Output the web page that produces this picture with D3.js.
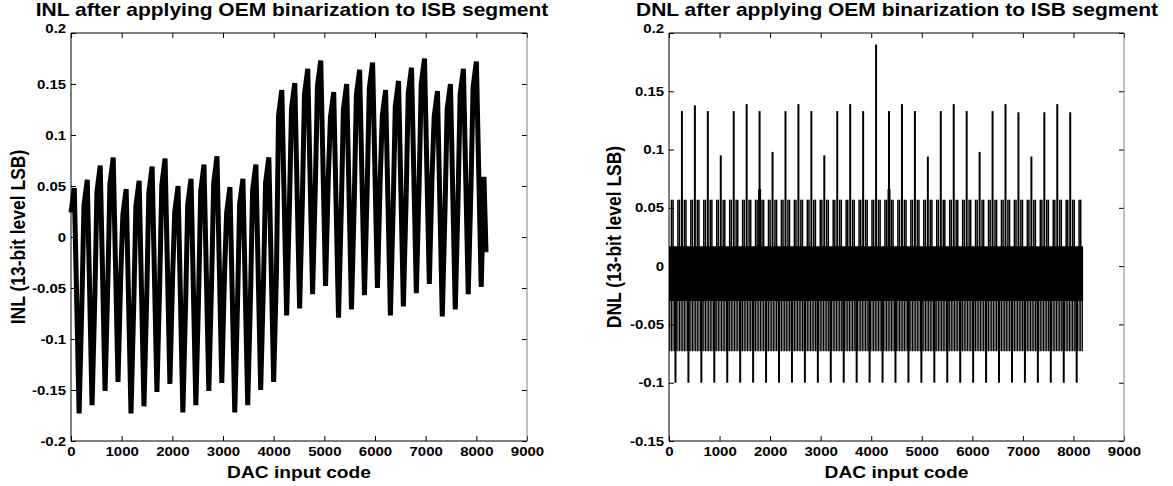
<!DOCTYPE html>
<html>
<head>
<meta charset="utf-8">
<script src="https://cdnjs.cloudflare.com/ajax/libs/d3/7.8.5/d3.min.js"></script>
<style>
  body { margin: 0; background: #fff; }
  text { font-family: "Liberation Sans", Arial, sans-serif; font-weight: bold; fill: #000; }
</style>
</head>
<body>
<div id="chart"></div>
<script>
// tick values
var codeTicks = [0, 1000, 2000, 3000, 4000, 5000, 6000, 7000, 8000, 9000];
var inlTicks = [-0.2, -0.15, -0.1, -0.05, 0, 0.05, 0.1, 0.15, 0.2];
var dnlTicks = [-0.15, -0.1, -0.05, 0, 0.05, 0.1, 0.15, 0.2];

// first code of every 256-code period
var periodStart = [0, 256, 512, 768, 1024, 1280, 1536, 1792, 2048, 2304, 2560, 2816, 3072, 3328, 3584, 3840,
  4096, 4352, 4608, 4864, 5120, 5376, 5632, 5888, 6144, 6400, 6656, 6912, 7168, 7424, 7680, 7936];

// INL, read per period: value at period start, at the peak, the trough and half way back up
var inlOffsets = [0, 65, 160, 215];
var inlStart = [0.024, 0.031, 0.044, 0.052, 0.022, 0.030, 0.043, 0.051, 0.025, 0.032, 0.045, 0.053, 0.024, 0.032, 0.046, 0.053,
  0.119, 0.126, 0.140, 0.148, 0.117, 0.125, 0.139, 0.146, 0.119, 0.128, 0.141, 0.150, 0.118, 0.125, 0.140, 0.147];
var inlPeak = [0.048, 0.056, 0.070, 0.078, 0.047, 0.055, 0.069, 0.077, 0.050, 0.057, 0.071, 0.079, 0.049, 0.057, 0.071, 0.078,
  0.144, 0.151, 0.165, 0.173, 0.142, 0.150, 0.164, 0.171, 0.144, 0.153, 0.166, 0.175, 0.143, 0.150, 0.165, 0.172];
var inlTrough = [-0.173, -0.165, -0.151, -0.142, -0.173, -0.166, -0.152, -0.144, -0.172, -0.165, -0.151, -0.143, -0.172, -0.165, -0.150, -0.142,
  -0.077, -0.070, -0.056, -0.048, -0.079, -0.071, -0.057, -0.050, -0.077, -0.068, -0.055, -0.046, -0.078, -0.071, -0.056, -0.049];
var inlRise = [-0.065, -0.058, -0.045, -0.036, -0.065, -0.058, -0.045, -0.036, -0.064, -0.057, -0.044, -0.035, -0.065, -0.058, -0.044, -0.035,
  0.030, 0.037, 0.051, 0.059, 0.028, 0.036, 0.050, 0.057, 0.030, 0.039, 0.052, 0.061, 0.029, 0.036, 0.051, 0.059];
var inlEndCode = [8191];
var inlEndValue = [-0.015];

// DNL: dense band, spikes at period boundaries, spikes inside periods
var dnlBandCodes = [0, 8191];
var dnlBandLow = [-0.030, -0.030];
var dnlBandHigh = [0.017, 0.017];
var dnlBigValues = [0.133, 0.138, 0.133, 0.095, 0.133, 0.139, 0.133, 0.098, 0.133, 0.139, 0.133, 0.095, 0.133, 0.139, 0.133,
  0.190, 0.133, 0.139, 0.133, 0.094, 0.133, 0.139, 0.133, 0.098, 0.133, 0.139, 0.132, 0.094, 0.132, 0.139, 0.132];
var dnlDownOffset = 128;
var dnlDownValue = -0.100;
var dnlMidUpOffsets = [48, 80, 176, 208];
var dnlMidUpValue = 0.057;
var dnlMidDownOffsets = [16, 48, 80, 112, 144, 176, 208, 240];
var dnlMidDownValue = -0.073;
var dnlHumpCodes = [1792, 4352];
var dnlHumpValues = [0.066, 0.066];

var width = 1173,
    height = 486,
    plotTop = 33,
    plotBottom = 441,
    stretch = 1.2;   // the picture is drawn wider than the font

var svg = d3.select('#chart')
  .append('svg')
    .attr('width', width)
    .attr('height', height);

function stretchedText(g, x, y, str, size, rotate) {
  return g.append('text')
    .attr('transform', 'translate(' + x + ',' + y + ') scale(' + stretch + ',1)' + (rotate ? ' rotate(-90)' : ''))
    .attr('text-anchor', 'middle')
    .style('font-size', size + 'px')
    .text(str);
}

function panel(left, right, yDomain, yTicks, title, titleX, yLabel, yLabelX) {
  var x = d3.scaleLinear().domain([0, 9000]).range([left, right]);
  var y = d3.scaleLinear().domain(yDomain).range([plotBottom, plotTop]);
  var g = svg.append('g');
  var data = g.append('g');

  // axes, ticks pointing inward
  var fmt = function(d) { return String(d); };
  var ax = g.append('g').attr('transform', 'translate(0,' + plotBottom + ')')
    .call(d3.axisBottom(x).tickValues(codeTicks).tickSize(-5).tickSizeOuter(0).tickPadding(6).tickFormat(fmt));
  g.append('g').attr('transform', 'translate(0,' + plotTop + ')')
    .call(d3.axisTop(x).tickValues(codeTicks).tickSize(-5).tickSizeOuter(0).tickFormat(''));
  var ay = g.append('g').attr('transform', 'translate(' + left + ',0)')
    .call(d3.axisLeft(y).tickValues(yTicks).tickSize(-5).tickSizeOuter(0).tickPadding(4).tickFormat(fmt));
  g.append('g').attr('transform', 'translate(' + right + ',0)')
    .call(d3.axisRight(y).tickValues(yTicks).tickSize(-5).tickSizeOuter(0).tickFormat(''));

  g.selectAll('.domain').remove();
  g.selectAll('.tick line').attr('stroke', '#000');
  [ax, ay].forEach(function(a) {
    a.attr('font-family', null).attr('font-size', null);
    a.selectAll('.tick text')
      .style('font-size', '12.5px')
      .attr('transform', 'scale(' + stretch + ',1)');
  });
  // the top label sits a little above the frame
  ay.selectAll('.tick text').filter(function(d) { return d === yDomain[1]; }).attr('y', -5);

  // frame
  g.append('line').attr('x1', left).attr('x2', right).attr('y1', plotTop).attr('y2', plotTop).attr('stroke', '#000');
  g.append('line').attr('x1', left).attr('x2', right).attr('y1', plotBottom).attr('y2', plotBottom).attr('stroke', '#000');
  g.append('line').attr('x1', left).attr('x2', left).attr('y1', plotTop).attr('y2', plotBottom).attr('stroke', '#000');
  g.append('line').attr('x1', right).attr('x2', right).attr('y1', plotTop).attr('y2', plotBottom).attr('stroke', '#808080');

  // texts
  stretchedText(g, titleX, 16, title, 17.5);
  stretchedText(g, (left + right) / 2, 478, 'DAC input code', 16);
  stretchedText(g, yLabelX, (plotTop + plotBottom) / 2, yLabel, 17.5, true).attr('dy', '0.35em');

  return { x: x, y: y, g: data };
}

// ---- INL ----
var inl = panel(71, 527, [-0.2, 0.2], inlTicks,
  'INL after applying OEM binarization to ISB segment', 292, 'INL (13-bit level LSB)', 18);

var inlPoints = [];
periodStart.forEach(function(s, i) {
  inlPoints.push([s + inlOffsets[0], inlStart[i]]);
  inlPoints.push([s + inlOffsets[1], inlPeak[i]]);
  inlPoints.push([s + inlOffsets[2], inlTrough[i]]);
  inlPoints.push([s + inlOffsets[3], inlRise[i]]);
});
inlEndCode.forEach(function(c, i) { inlPoints.push([c, inlEndValue[i]]); });

inl.g.append('path')
  .datum(inlPoints)
  .attr('fill', 'none')
  .attr('stroke', '#000')
  .attr('stroke-width', 5)
  .attr('stroke-linejoin', 'bevel')
  .attr('d', d3.line()
    .x(function(d) { return inl.x(d[0]); })
    .y(function(d) { return inl.y(d[1]); }));

// ---- DNL ----
var dnl = panel(669, 1124, [-0.15, 0.2], dnlTicks,
  'DNL after applying OEM binarization to ISB segment', 897, 'DNL (13-bit level LSB)', 614);

function stems(list, w) {
  dnl.g.append('g').selectAll('line')
    .data(list)
    .enter()
    .append('line')
      .attr('x1', function(d) { return dnl.x(d[0]); })
      .attr('x2', function(d) { return dnl.x(d[0]); })
      .attr('y1', dnl.y(0))
      .attr('y2', function(d) { return dnl.y(d[1]); })
      .attr('stroke', '#000')
      .attr('stroke-width', w);
}

var midDown = [], midUp = [], down = [], big = [], humps = [];
periodStart.forEach(function(s, i) {
  dnlMidDownOffsets.forEach(function(o) { midDown.push([s + o, dnlMidDownValue]); });
  dnlMidUpOffsets.forEach(function(o) { midUp.push([s + o, dnlMidUpValue]); });
  down.push([s + dnlDownOffset, dnlDownValue]);
  if (i > 0) big.push([s, dnlBigValues[i - 1]]);
});
dnlHumpCodes.forEach(function(c, i) { humps.push([c, dnlHumpValues[i]]); });

stems(midDown, 1.2);
stems(midUp, 1.5);
stems(down, 2);
stems(big, 2);
stems(humps, 3);

dnl.g.append('path')
  .datum(dnlBandCodes.map(function(c, i) { return [c, dnlBandLow[i], dnlBandHigh[i]]; }))
  .attr('fill', '#000')
  .attr('d', d3.area()
    .x(function(d) { return dnl.x(d[0]); })
    .y0(function(d) { return dnl.y(d[1]); })
    .y1(function(d) { return dnl.y(d[2]); }));
</script>
</body>
</html>
